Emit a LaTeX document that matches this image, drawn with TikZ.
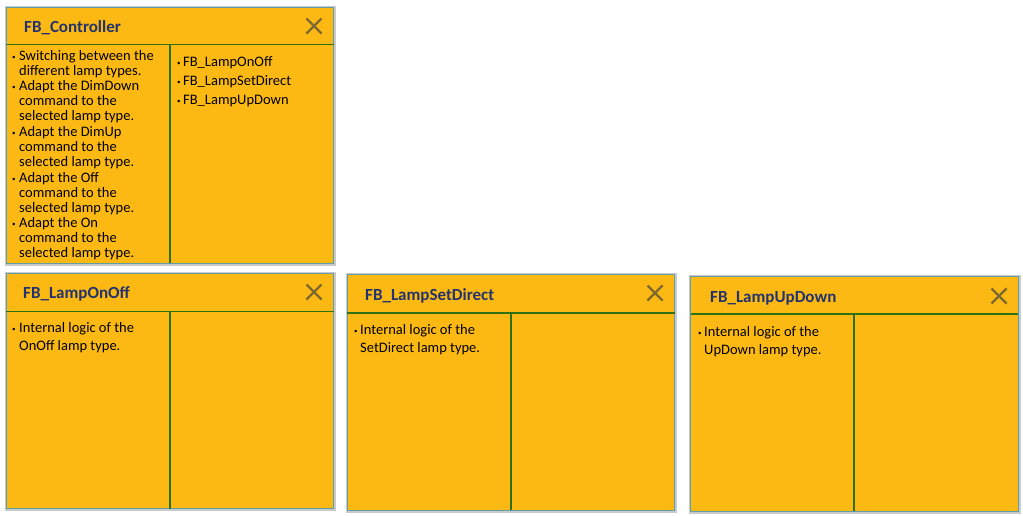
\documentclass[tikz,border=0pt]{standalone}
\usepackage{fontspec}
\setmainfont{Carlito}
\usetikzlibrary{calc}
\definecolor{boxfill}{HTML}{FDB913}
\definecolor{boxborder}{HTML}{5E9EA6}
\definecolor{sepline}{HTML}{2F7012}
\definecolor{titleblue}{HTML}{22336E}
\definecolor{xcol}{HTML}{7D6830}
\definecolor{shadowgray}{HTML}{BDBDBD}
\newcommand{\bul}[1]{\makebox[#1][l]{\raisebox{1.2pt}{\fontsize{7}{7}\selectfont •}}}
\tikzset{
  panel/.style={draw=boxborder, line width=0.9pt, fill=boxfill},
  panelshadow/.style={fill=shadowgray, draw=none, opacity=0.8},
  sep/.style={draw=sepline, line width=1.1pt},
  title/.style={anchor=mid west, inner sep=0pt, yshift=-3.5pt, text=titleblue, font=\fontsize{17}{20}\selectfont\bfseries},
  body/.style={anchor=mid west, inner sep=0pt, yshift=-3pt, font=\fontsize{14.5}{15}\selectfont},
  closex/.style={draw=xcol, line width=2.2pt},
}
% #1 x1, #2 y1, #3 x2, #4 y2, #5 header y, #6 divider x
\newcommand{\fbpanel}[6]{%
  \fill[panelshadow] (#1-1.5,#2-1.5) rectangle (#3+2.5,#4+2.5);
  \path[panel] (#1,#2) rectangle (#3,#4);
  \draw[sep] (#1,#5) -- (#3,#5);
  \draw[sep] (#6,#5) -- (#6,#4);
}
\newcommand{\closeicon}[3]{%
  \coordinate (#1) at (#2,#3);
  \draw[closex] ($(#1)+(-7.5,-7.5)$) -- ($(#1)+(7.5,7.5)$);
  \draw[closex] ($(#1)+(-7.5,7.5)$) -- ($(#1)+(7.5,-7.5)$);
}
\begin{document}
\begin{tikzpicture}[x=1pt,y=-1pt]
\useasboundingbox (0,0) rectangle (1023,515);

% ---- FB_Controller
\fbpanel{6}{7}{333.5}{263}{44.5}{170}
\node[title] (tc) at (24,27) {FB\_Controller};
\closeicon{xc}{314}{26}
\node[body] (c1a) at (12,55)    {\bul{7pt}Switching between the};
\node[body] (c1b) at (19,70)    {different lamp types.};
\node[body] (c2a) at (12,85.5)  {\bul{7pt}Adapt the DimDown};
\node[body] (c2b) at (19,100.5) {command to the};
\node[body] (c2c) at (19,115.5) {selected lamp type.};
\node[body] (c3a) at (12,131.5) {\bul{7pt}Adapt the DimUp};
\node[body] (c3b) at (19,146.5) {command to the};
\node[body] (c3c) at (19,161.5) {selected lamp type.};
\node[body] (c4a) at (12,177.5) {\bul{7pt}Adapt the Off};
\node[body] (c4b) at (19,192.5) {command to the};
\node[body] (c4c) at (19,207.5) {selected lamp type.};
\node[body] (c5a) at (12,222.5) {\bul{7pt}Adapt the On};
\node[body] (c5b) at (19,237.5) {command to the};
\node[body] (c5c) at (19,252)   {selected lamp type.};
\node[body] (r1) at (177,61.5) {\bul{6pt}FB\_LampOnOff};
\node[body] (r2) at (177,80)   {\bul{6pt}FB\_LampSetDirect};
\node[body] (r3) at (177,99)   {\bul{6pt}FB\_LampUpDown};

% ---- FB_LampOnOff
\fbpanel{6}{273}{333.5}{508.5}{311.5}{170}
\node[title] (to) at (23,293) {FB\_LampOnOff};
\closeicon{xo}{314}{292}
\node[body] (o1) at (12,327.5) {\bul{7pt}Internal logic of the};
\node[body] (o2) at (19,345)   {OnOff lamp type.};

% ---- FB_LampSetDirect
\fbpanel{347}{274.5}{674.5}{510}{313}{511}
\node[title] (ts) at (365,295) {FB\_LampSetDirect};
\closeicon{xs}{655}{293}
\node[body] (s1) at (354,329) {\bul{6pt}Internal logic of the};
\node[body] (s2) at (360,347) {SetDirect lamp type.};

% ---- FB_LampUpDown
\fbpanel{690.5}{276}{1018}{511}{314}{854}
\node[title] (tu) at (710,297) {FB\_LampUpDown};
\closeicon{xu}{999}{296}
\node[body] (u1) at (698,331) {\bul{6pt}Internal logic of the};
\node[body] (u2) at (704,349) {UpDown lamp type.};
\end{tikzpicture}
\end{document}
